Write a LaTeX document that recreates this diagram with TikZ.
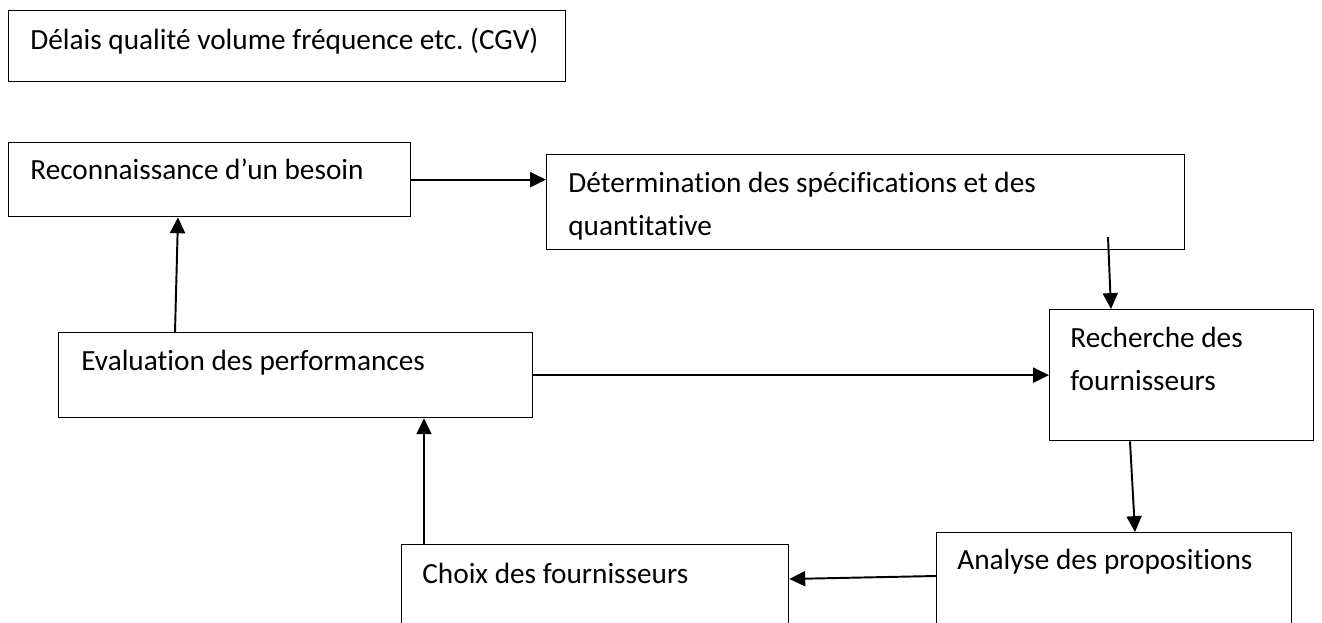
\documentclass[tikz,border=0pt]{standalone}
\usepackage{fontspec}
\setmainfont{Carlito}[Ligatures=NoCommon]
\usetikzlibrary{arrows.meta,calc,positioning}
\frenchspacing

\def\pxu{0.567pt} % one pixel of the layout grid

\begin{document}
\begin{tikzpicture}[
    x=\pxu, y=-\pxu,
    >={Triangle[length=9pt, width=8.5pt]},
    font=\fontsize{16.6}{24.4}\selectfont,
    procbox/.style={draw, line width=0.75pt, rectangle, inner sep=0pt,
                    anchor=north west},
    boxtext/.style={anchor=base west, inner sep=0pt, align=left},
    flowarrow/.style={->, line width=1.1pt},
]

\clip (0,0) rectangle (1322,623);

% ── Boxes ──
\node[procbox, minimum width=557*\pxu, minimum height=71*\pxu]  (cgv)  at (8,10)    {};
\node[procbox, minimum width=402*\pxu, minimum height=74*\pxu]  (rec)  at (8,142)   {};
\node[procbox, minimum width=638*\pxu, minimum height=95*\pxu]  (det)  at (546,154) {};
\node[procbox, minimum width=264*\pxu, minimum height=131*\pxu] (rech) at (1049,309) {};
\node[procbox, minimum width=474*\pxu, minimum height=85*\pxu]  (eval) at (58,332)  {};
\node[procbox, minimum width=355*\pxu, minimum height=120*\pxu] (ana)  at (936,532) {};
\node[procbox, minimum width=387*\pxu, minimum height=120*\pxu] (choix) at (401,544) {};

% ── Texts (multi-line ones sit on their last baseline) ──
\node[boxtext] (cgv-t)   at ($(cgv.north west)+(22,40)$)   {Délais qualité volume fréquence etc. (CGV)};
\node[boxtext] (rec-t)   at ($(rec.north west)+(22,38)$)   {Reconnaissance d’un besoin};
\node[boxtext] (det-t)   at ($(det.north west)+(22,82)$)   {Détermination des spécifications et des\\quantitative};
\node[boxtext] (rech-t)  at ($(rech.north west)+(21,82)$)  {Recherche des\\fournisseurs};
\node[boxtext] (eval-t)  at ($(eval.north west)+(23,39)$)  {Evaluation des performances};
\node[boxtext] (ana-t)   at ($(ana.north west)+(21,38)$)   {Analyse des propositions};
\node[boxtext] (choix-t) at ($(choix.north west)+(21,39)$) {Choix des fournisseurs};

% ── Connectors ──
\coordinate (det-out) at ($(det.north west)+(562,83)$);

\draw[flowarrow] (rec.east) -- (rec.east -| det.west);
\draw[flowarrow] (det-out) -- ($(rech.north west)+(62,0)$);
\draw[flowarrow] (eval.east) -- (eval.east -| rech.west);
\draw[flowarrow] ($(eval.north west)+(117,0)$) -- ($(rec.south west)+(170,0)$);
\draw[flowarrow] ($(rech.south west)+(81,0)$) -- ($(ana.north west)+(199,0)$);
\draw[flowarrow] ($(ana.north west)+(0,44)$) -- ($(choix.north east)+(0,35)$);
\draw[flowarrow] ($(choix.north west)+(23,0)$) -- ($(eval.south west)+(366,0)$);

\end{tikzpicture}
\end{document}
